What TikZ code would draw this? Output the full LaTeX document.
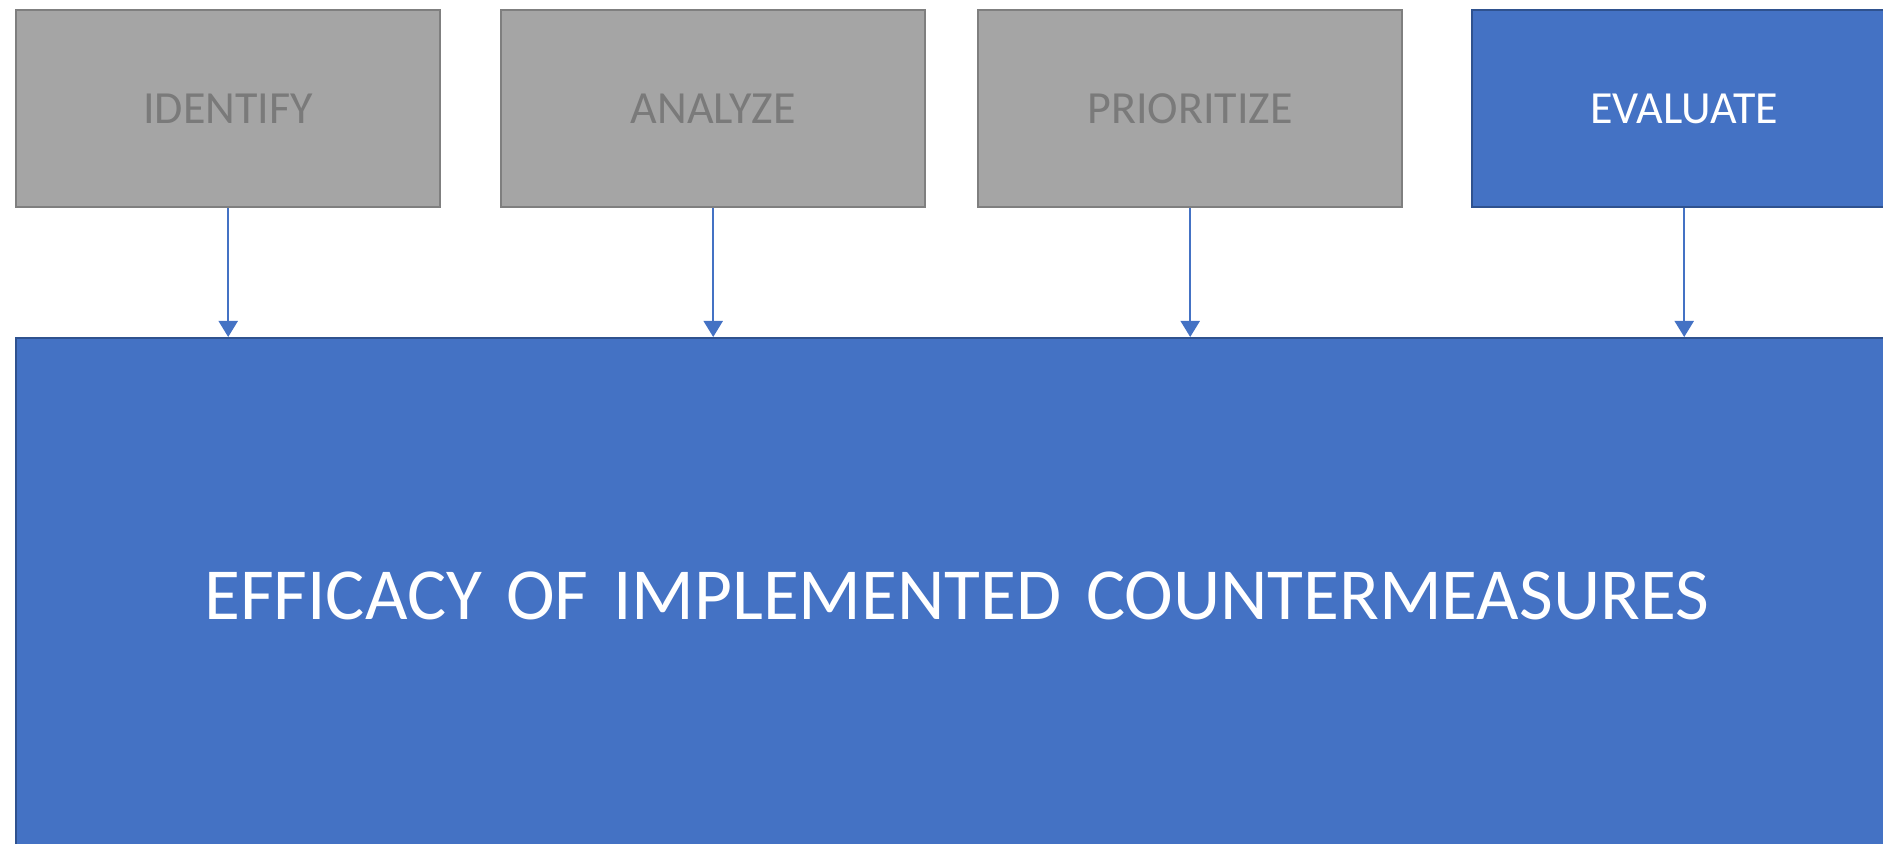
\documentclass[tikz,border=0pt]{standalone}
\usepackage{fontspec}
\setmainfont{Carlito}
\usetikzlibrary{positioning, arrows.meta}
\definecolor{boxblue}{HTML}{4472C4}
\definecolor{boxblueline}{HTML}{2F528F}
\definecolor{boxgray}{HTML}{A5A5A5}
\definecolor{boxgrayline}{HTML}{7F7F7F}
\definecolor{boxgraytext}{HTML}{7A7A7A}
\tikzset {
    >={Triangle[length=8pt, width=9.5pt]},
    stage/.style={rectangle, draw, line width=1.2pt, anchor=north west,
        minimum width=212pt, minimum height=98.5pt,
        font=\fontsize{23}{28}\selectfont},
    done stage/.style={stage, fill=boxgray, draw=boxgrayline, text=boxgraytext},
    open stage/.style={stage, fill=boxblue, draw=boxblueline, text=white}
}

\begin{document}
\begin{tikzpicture}[
  x=0.5pt, y=-0.5pt,
  feed/.style={draw=boxblue, line width=1pt, ->},
  result/.style={rectangle, draw=boxblueline, fill=boxblue, text=white,
    line width=1.2pt, anchor=north west, align=left,
    minimum height=257.5pt, inner xsep=94pt, text width=820pt,
    font=\fontsize{36.7}{44}\selectfont}
  ]

\clip (0,0) rectangle (1883,844);

\node[done stage] (identify) at (15,9) {IDENTIFY};
\node[done stage] (analyze) at (500,9) {ANALYZE};
\node[done stage] (prioritize) at (977,9) {PRIORITIZE};
\node[open stage] (evaluate) at (1471,9) {EVALUATE};

\node[result] (efficacy) at (15,337) {EFFICACY OF IMPLEMENTED COUNTERMEASURES};

\foreach \s in {identify, analyze, prioritize, evaluate}
  \draw[feed] (\s.south) -- (\s.south |- efficacy.north);

\end{tikzpicture}
\end{document}
